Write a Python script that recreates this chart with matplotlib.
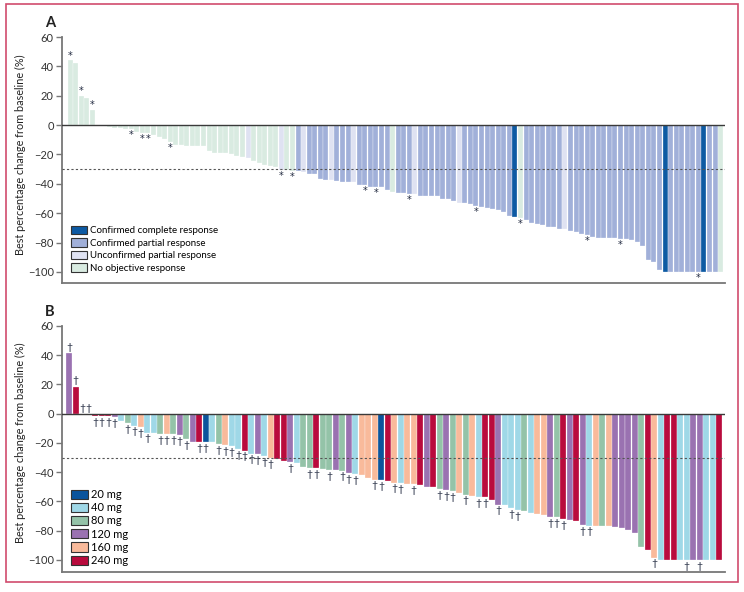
import matplotlib
matplotlib.use("Agg")
import matplotlib.pyplot as plt
from matplotlib.patches import Patch, Rectangle

plt.rcParams['font.family'] = ['Lato', 'DejaVu Sans']

# ---- panel A: best change per patient, response category, star marks
a_values = [44, 42, 20, 18.5, 10.5, 0, 0, -1.5, -1.8, -2,
            -2.5, -2.7, -5, -5.2, -5.3, -6.6, -8.4, -9.5, -11.6, -13.2,
            -13.6, -13.9, -14.1, -14.3, -14.4, -17.5, -18.9, -19, -19.3, -19.5,
            -21, -21.6, -22.3, -24.3, -25.7, -27.3, -27.5, -28.4, -30.5, -30.8,
            -31, -31.4, -31.8, -33, -33.6, -36.6, -37.3, -37.5, -38, -38.6,
            -38.9, -39, -40.5, -40.7, -41.8, -42, -42.3, -44, -45.2, -45.9,
            -46, -46.6, -47, -48, -48.1, -48.4, -48.6, -50.5, -50.6, -51.8,
            -53, -53.2, -53.9, -55, -55.5, -56.4, -57.3, -57.5, -59, -62,
            -62.5, -63, -64.8, -66.4, -67, -68.2, -69.3, -69.5, -70.5, -70.7,
            -71.8, -73, -74, -74.8, -76.4, -76.6, -76.6, -76.7, -77, -77.5,
            -77.7, -78, -79.5, -82, -91.6, -93.4, -98.9, -100, -100, -100,
            -100, -100, -100, -100, -100, -100, -100, -100]
a_resp = (["N"] * 32 + ["U"] + ["N"] * 5 + ["U", "N", "N", "P", "U", "P", "P", "P", "P", "U",
          "P", "P", "P", "U", "P", "P", "P", "P", "P", "P", "N", "P", "P", "P", "U",
          "P", "P", "P", "P", "P", "P", "P", "U", "P", "P", "P", "P", "P", "P", "P",
          "P", "P", "C", "N", "P", "P", "P", "P", "P", "P", "P", "U"]
          + ["P"] * 17 + ["C"] + ["P"] * 6 + ["C", "P", "P", "N"])
a_star = [1, 3, 5, 12, 14, 15, 19, 39, 41, 54, 56, 62, 74, 82, 94, 100, 114]

a_labels = {"C": "Confirmed complete response", "P": "Confirmed partial response",
            "U": "Unconfirmed partial response", "N": "No objective response"}
a_colors = {"C": "#0d5aa3", "P": "#a1b0d9", "U": "#dfe2f2", "N": "#d9ebe1"}

# ---- panel B: best change per patient, dose group, dagger marks
b_values = [41.7, 18.6, 0, 0, -1.8, -1.8, -1.8, -2.5, -5.2, -6.6,
            -8.2, -9.3, -12.9, -13.4, -13.8, -14, -14.1, -14.7, -17.5, -19,
            -19.3, -19.4, -19.5, -20.9, -21.5, -22.2, -24, -25.2, -27.2, -27.7,
            -28.8, -30.2, -31, -32, -33.1, -33.8, -36.5, -37.2, -37.4, -38.1,
            -38.5, -38.8, -38.9, -40.4, -41.5, -42.2, -43.8, -45.1, -45.2, -45.8,
            -47.2, -47.6, -47.8, -48.3, -48.5, -50.1, -50.3, -51.7, -52.4, -53,
            -54, -55.3, -56.2, -57.1, -57.2, -58.7, -62.1, -62.2, -64.4, -66,
            -66.7, -67.8, -68.9, -69.2, -70.5, -70.7, -71.9, -72.8, -73.7, -76,
            -76.5, -76.6, -76.7, -76.9, -77.6, -78, -79.4, -81.9, -91.2, -93.2,
            -98.4, -100, -100, -100, -100, -100, -100, -100, -100, -100, -100]
b_dose = [120, 240, 40, 40, 240, 240, 240, 120, 40, 80,
          40, 160, 40, 40, 80, 160, 80, 120, 80, 120,
          240, 20, 40, 80, 160, 40, 40, 240, 40, 120,
          40, 160, 240, 240, 120, 40, 80, 80, 240, 80,
          80, 120, 80, 120, 40, 160, 160, 160, 20, 240,
          160, 40, 160, 160, 240, 120, 240, 80, 120, 80,
          160, 80, 160, 40, 240, 240, 120, 40, 40, 40,
          80, 40, 160, 160, 120, 80, 240, 120, 240, 120,
          40, 160, 80, 160, 120, 120, 120, 120, 80, 240,
          160, 40, 240, 240, 40, 40, 120, 120, 40, 40, 240]
b_dagger = [1, 2, 3, 4, 5, 6, 7, 8, 10, 11, 12, 13, 15, 16, 17, 18, 19, 21, 22,
            24, 25, 26, 27, 28, 29, 30, 31, 32, 35, 38, 39, 41, 43, 44, 45, 48,
            49, 51, 52, 54, 58, 59, 60, 62, 64, 65, 67, 69, 70, 75, 76, 77, 80,
            81, 91, 96, 98]

doses = [20, 40, 80, 120, 160, 240]
dose_colors = {20: "#0b549c", 40: "#9fd8e7", 80: "#94c3a8", 120: "#9a72b1",
               160: "#f9ba9b", 240: "#b90b3d"}

yticks = [-100, -80, -60, -40, -20, 0, 20, 40, 60]

fig = plt.figure(figsize=(7.44, 5.92), dpi=100)
W, H = 744, 592


def make_axes(top_px, bottom_px):
    return fig.add_axes([62 / W, 1 - bottom_px / H, (725 - 62) / W, (bottom_px - top_px) / H])


def style(ax, ymin, letter, first_px, step_px):
    ax.set_ylim(ymin, 60)
    left = -(first_px - 62) / step_px
    ax.set_xlim(left, left + (725 - 62) / step_px)
    for s in ["top", "right"]:
        ax.spines[s].set_visible(False)
    for s in ["left", "bottom"]:
        ax.spines[s].set_color("#777777")
        ax.spines[s].set_linewidth(1.3)
    ax.set_xticks([])
    ax.set_yticks(yticks)
    ax.tick_params(axis="y", length=4, width=1, color="#777777", labelsize=8,
                   labelcolor="#333333", pad=2)
    ax.axhline(0, color="#3a3a3a", lw=1.0, zorder=3)
    ax.axhline(-30, color="#555555", lw=0.8, ls=(0, (2, 2)), zorder=3)
    ax.set_ylabel("Best percentage change from baseline (%)", fontsize=7.8, color="#222222")
    ax.yaxis.set_label_coords(-36 / 663, (-20 - ymin) / (60 - ymin))
    ax.text(-12 / 663, 1.055, letter, transform=ax.transAxes, fontsize=10.5,
            fontweight="bold", ha="center", va="center", color="#222222")


# panel A
axA = make_axes(37, 283)
xa = list(range(len(a_values)))
axA.bar(xa, a_values, width=0.9, color=[a_colors[r] for r in a_resp],
        edgecolor="white", linewidth=0.2, zorder=2)
style(axA, -107.5, "A", 70.1, 5.56)
for i in a_star:
    v = a_values[i - 1]
    off = 3.5 if v >= 0 else -4.5
    axA.annotate("*", (i - 1, v), xytext=(0, off), textcoords="offset points",
                 ha="center", va="center", fontsize=7, family="DejaVu Sans",
                 color="#222a40", zorder=4)
handlesA = [Patch(facecolor=a_colors[k], edgecolor="#333333", linewidth=0.8, label=a_labels[k])
            for k in ["C", "P", "U", "N"]]
axA.legend(handles=handlesA, loc="upper left", bbox_to_anchor=(9 / 663, 0.232),
           frameon=False, fontsize=7, handlelength=1.65, handleheight=0.95,
           handletextpad=0.3, labelspacing=0.3, borderpad=0, borderaxespad=0)

# panel B
axB = make_axes(326, 571.5)
xb = list(range(len(b_values)))
axB.bar(xb, b_values, width=0.9, color=[dose_colors[d] for d in b_dose],
        edgecolor="white", linewidth=0.2, zorder=2)
style(axB, -107.9, "B", 69.3, 6.5)
for i in b_dagger:
    v = b_values[i - 1]
    off = 4 if v >= 0 else -4.5
    axB.annotate("\u2020", (i - 1, v), xytext=(0, off), textcoords="offset points",
                 ha="center", va="center", fontsize=7.5, color="#222a40", zorder=4)
handlesB = [Patch(facecolor=dose_colors[d], edgecolor="#333333", linewidth=0.8, label=f"{d} mg")
            for d in doses]
axB.legend(handles=handlesB, loc="upper left", bbox_to_anchor=(9 / 663, 0.336),
           frameon=False, fontsize=8, handlelength=1.5, handleheight=0.9,
           handletextpad=0.3, labelspacing=0.2, borderpad=0, borderaxespad=0)

# page border
fig.patches.append(Rectangle((6 / W, 1 - 581.5 / H), (737.5 - 6) / W, (581.5 - 4) / H,
                             transform=fig.transFigure, fill=False,
                             edgecolor="#d14b6d", linewidth=1.2))

fig.savefig("out.png", dpi=100)
